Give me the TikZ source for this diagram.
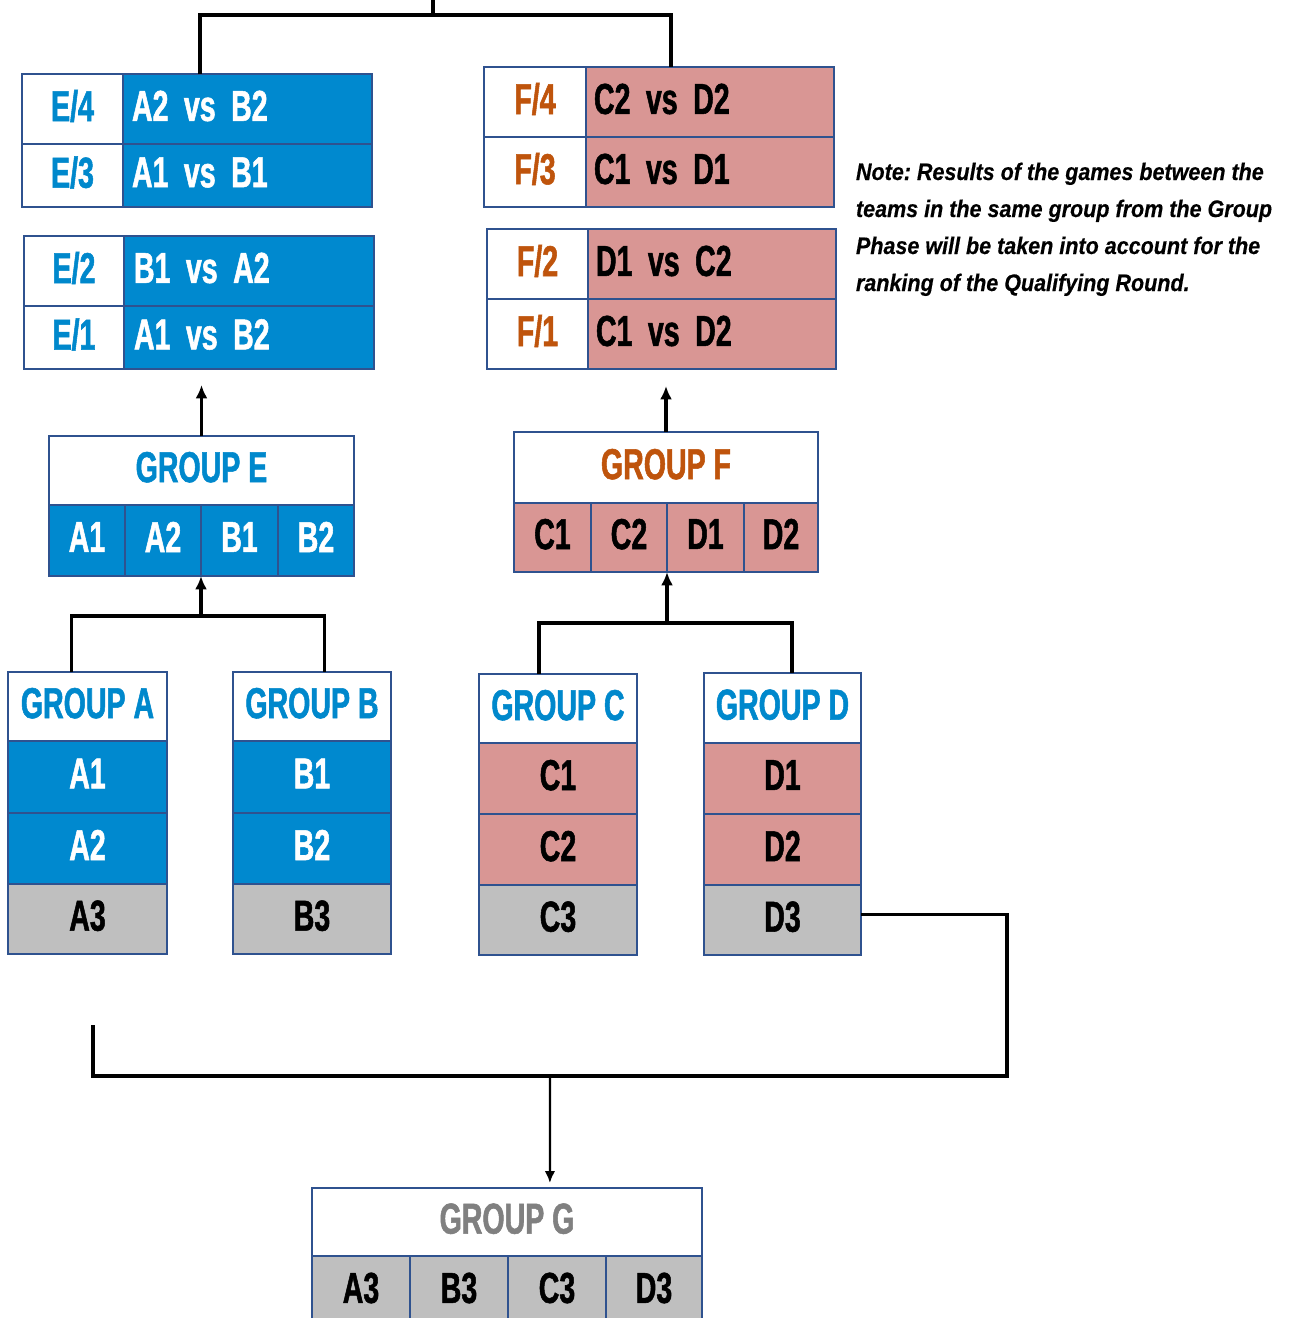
\documentclass[tikz,border=0pt]{standalone}
\usepackage{fontspec}
\usetikzlibrary{arrows.meta,calc}
\newfontfamily\teamfont[FakeStretch=0.66,FakeBold=1.2]{Liberation Sans}
\newfontfamily\notefont[FakeStretch=0.9,FakeBold=0.4]{Liberation Sans}
\definecolor{cblue}{RGB}{0,137,207}
\definecolor{cpink}{RGB}{217,150,148}
\definecolor{cgray}{RGB}{191,191,191}
\definecolor{cborder}{RGB}{47,82,143}
\definecolor{corange}{RGB}{191,84,12}
\definecolor{ctblue}{RGB}{0,136,204}
\definecolor{cgtext}{RGB}{128,128,128}
\newcommand\vsgap{\hspace{4.4pt}}
\newcommand\mkcell[7]{%
  \pgfmathsetmacro\cw{(#4-#2)*0.01}%
  \pgfmathsetmacro\ch{(#5-#3)*0.01}%
  \node[#6, minimum width=\cw cm, minimum height=\ch cm, anchor=north west] (#1) at (#2,#3) {#7};}
\tikzset{
  cellbase/.style={draw=cborder, line width=0.45pt, inner sep=0pt, outer sep=0pt,
    text depth=0.07cm, font=\teamfont\bfseries\fontsize{12.3}{14}\selectfont},
  wcell/.style={cellbase, fill=white},
  bcell/.style={cellbase, fill=cblue, text=white},
  pcell/.style={cellbase, fill=cpink, text=black},
  gcell/.style={cellbase, fill=cgray, text=black},
  vstext/.style={inner sep=0pt, outer sep=0pt, font=\teamfont\bfseries\fontsize{12.3}{14}\selectfont},
  conn/.style={draw=black, line width=1pt},
  arr/.style={conn, -{Latex[length=3.8pt,width=3.4pt]}},
  thinarr/.style={draw=black, line width=0.65pt, -{Latex[length=3.4pt,width=3pt]}},
  notetext/.style={inner sep=0pt, outer sep=0pt, anchor=base west,
    font=\notefont\bfseries\itshape\frenchspacing\fontsize{6.8}{8}\selectfont}
}
\begin{document}
\begin{tikzpicture}[x=0.01cm,y=-0.01cm]
\useasboundingbox (0,0) rectangle (1302,1318);
\clip (0,0) rectangle (1302,1318);
% ---------- E blocks ----------
\mkcell{E4l}{22}{74}{123}{144}{wcell,text=ctblue}{E/4}
\mkcell{E4r}{123}{74}{372}{144}{bcell}{}
\mkcell{E3l}{22}{144}{123}{207}{wcell,text=ctblue}{E/3}
\mkcell{E3r}{123}{144}{372}{207}{bcell}{}
\mkcell{E2l}{24}{236}{124}{306}{wcell,text=ctblue}{E/2}
\mkcell{E2r}{124}{236}{374}{306}{bcell}{}
\mkcell{E1l}{24}{306}{124}{369}{wcell,text=ctblue}{E/1}
\mkcell{E1r}{124}{306}{374}{369}{bcell}{}
\node[vstext,text=white,anchor=west] (E4t) at ([xshift=0.09cm,yshift=0.03cm]E4r.west) {A2\vsgap vs\vsgap B2};
\node[vstext,text=white,anchor=west] (E3t) at ([xshift=0.09cm,yshift=0.03cm]E3r.west) {A1\vsgap vs\vsgap B1};
\node[vstext,text=white,anchor=west] (E2t) at ([xshift=0.1cm,yshift=0.03cm]E2r.west) {B1\vsgap vs\vsgap A2};
\node[vstext,text=white,anchor=west] (E1t) at ([xshift=0.1cm,yshift=0.03cm]E1r.west) {A1\vsgap vs\vsgap B2};
% ---------- F blocks ----------
\mkcell{F4l}{484}{67}{586}{137}{wcell,text=corange}{F/4}
\mkcell{F4r}{586}{67}{834}{137}{pcell}{}
\mkcell{F3l}{484}{137}{586}{207}{wcell,text=corange}{F/3}
\mkcell{F3r}{586}{137}{834}{207}{pcell}{}
\mkcell{F2l}{487}{229}{588}{299}{wcell,text=corange}{F/2}
\mkcell{F2r}{588}{229}{836}{299}{pcell}{}
\mkcell{F1l}{487}{299}{588}{369}{wcell,text=corange}{F/1}
\mkcell{F1r}{588}{299}{836}{369}{pcell}{}
\node[vstext,anchor=west] (F4t) at ([xshift=0.08cm,yshift=0.03cm]F4r.west) {C2\vsgap vs\vsgap D2};
\node[vstext,anchor=west] (F3t) at ([xshift=0.08cm,yshift=0.03cm]F3r.west) {C1\vsgap vs\vsgap D1};
\node[vstext,anchor=west] (F2t) at ([xshift=0.08cm,yshift=0.03cm]F2r.west) {D1\vsgap vs\vsgap C2};
\node[vstext,anchor=west] (F1t) at ([xshift=0.08cm,yshift=0.03cm]F1r.west) {C1\vsgap vs\vsgap D2};
% ---------- Note ----------
\node[notetext] (note1) at (856,180) {Note: Results of the games between the};
\node[notetext] (note2) at (856,217) {teams in the same group from the Group};
\node[notetext] (note3) at (856,254) {Phase will be taken into account for the};
\node[notetext] (note4) at (856,291) {ranking of the Qualifying Round.};
% ---------- Group E ----------
\mkcell{GEh}{49}{436}{354}{505}{wcell,text=ctblue}{GROUP E}
\mkcell{GE1}{49}{505}{125}{576}{bcell}{A1}
\mkcell{GE2}{125}{505}{201}{576}{bcell}{A2}
\mkcell{GE3}{201}{505}{278}{576}{bcell}{B1}
\mkcell{GE4}{278}{505}{354}{576}{bcell}{B2}
% ---------- Group F ----------
\mkcell{GFh}{514}{432}{818}{503}{wcell,text=corange}{GROUP F}
\mkcell{GF1}{514}{503}{591}{572}{pcell}{C1}
\mkcell{GF2}{591}{503}{667}{572}{pcell}{C2}
\mkcell{GF3}{667}{503}{744}{572}{pcell}{D1}
\mkcell{GF4}{744}{503}{818}{572}{pcell}{D2}
% ---------- Group A ----------
\mkcell{GAh}{8}{672}{167}{741}{wcell,text=ctblue}{GROUP A}
\mkcell{A1}{8}{741}{167}{813}{bcell}{A1}
\mkcell{A2}{8}{813}{167}{884}{bcell}{A2}
\mkcell{A3}{8}{884}{167}{954}{gcell}{A3}
% ---------- Group B ----------
\mkcell{GBh}{233}{672}{391}{741}{wcell,text=ctblue}{GROUP B}
\mkcell{B1}{233}{741}{391}{813}{bcell}{B1}
\mkcell{B2}{233}{813}{391}{884}{bcell}{B2}
\mkcell{B3}{233}{884}{391}{954}{gcell}{B3}
% ---------- Group C ----------
\mkcell{GCh}{479}{674}{637}{743}{wcell,text=ctblue}{GROUP C}
\mkcell{C1}{479}{743}{637}{814}{pcell}{C1}
\mkcell{C2}{479}{814}{637}{885}{pcell}{C2}
\mkcell{C3}{479}{885}{637}{955}{gcell}{C3}
% ---------- Group D ----------
\mkcell{GDh}{704}{673}{861}{743}{wcell,text=ctblue}{GROUP D}
\mkcell{D1}{704}{743}{861}{814}{pcell}{D1}
\mkcell{D2}{704}{814}{861}{885}{pcell}{D2}
\mkcell{D3}{704}{885}{861}{955}{gcell}{D3}
% ---------- Group G ----------
\mkcell{GGh}{312}{1188}{702}{1256}{wcell,text=cgtext}{GROUP G}
\mkcell{G1}{312}{1256}{410}{1330}{gcell}{}
\mkcell{G2}{410}{1256}{508}{1330}{gcell}{}
\mkcell{G3}{508}{1256}{606}{1330}{gcell}{}
\mkcell{G4}{606}{1256}{702}{1330}{gcell}{}
\node[vstext] (G1t) at ($(G1.north)+(0,32)$) {A3};
\node[vstext] (G2t) at ($(G2.north)+(0,32)$) {B3};
\node[vstext] (G3t) at ($(G3.north)+(0,32)$) {C3};
\node[vstext] (G4t) at ($(G4.north)+(0,32)$) {D3};
% ---------- connectors ----------
\coordinate (topTick) at (433,0);
\coordinate (jTop) at (433,15);
\coordinate (eTop) at ($(E4l.north west)!0.509!(E4r.north east)$);
\coordinate (fTop) at ($(F4l.north west)!0.534!(F4r.north east)$);
\draw[conn] (eTop) |- (jTop) -| (fTop);
\draw[conn] (jTop) -- (topTick);
% E arrow
\coordinate (tipE) at ($(GEh.north)+(0,-51)$);
\draw[arr] (GEh.north) -- (tipE);
% F arrow
\coordinate (tipF) at ($(GFh.north)+(0,-46)$);
\draw[arr] (GFh.north) -- (tipF);
% A/B bracket
\coordinate (aTop) at ($(GAh.north west)!0.40!(GAh.north east)$);
\coordinate (bTop) at ($(GBh.north west)!0.58!(GBh.north east)$);
\coordinate (jAB) at ($(GE2.south east)+(0,40)$);
\draw[conn] (aTop) |- (jAB) -| (bTop);
\draw[arr] (jAB) -- (GE2.south east);
% C/D bracket
\coordinate (cTop) at ($(GCh.north west)!0.38!(GCh.north east)$);
\coordinate (dTop) at ($(GDh.north west)!0.56!(GDh.north east)$);
\coordinate (jCD) at ($(GF2.south east)+(0,51)$);
\draw[conn] (cTop) |- (jCD) -| (dTop);
\draw[arr] (jCD) -- (GF2.south east);
% third places to G
\coordinate (d3out) at ($(D3.north east)!0.42!(D3.south east)$);
\coordinate (cR) at (1007,1076);
\coordinate (cLtop) at (93,1025);
\coordinate (jG) at (550,1076);
\coordinate (gTop) at ($(GGh.north west)!0.61!(GGh.north east)+(0,-5)$);
\draw[conn] (d3out) -| (cR) -| (cLtop);
\draw[thinarr] (jG) -- (gTop);
\end{tikzpicture}
\end{document}
